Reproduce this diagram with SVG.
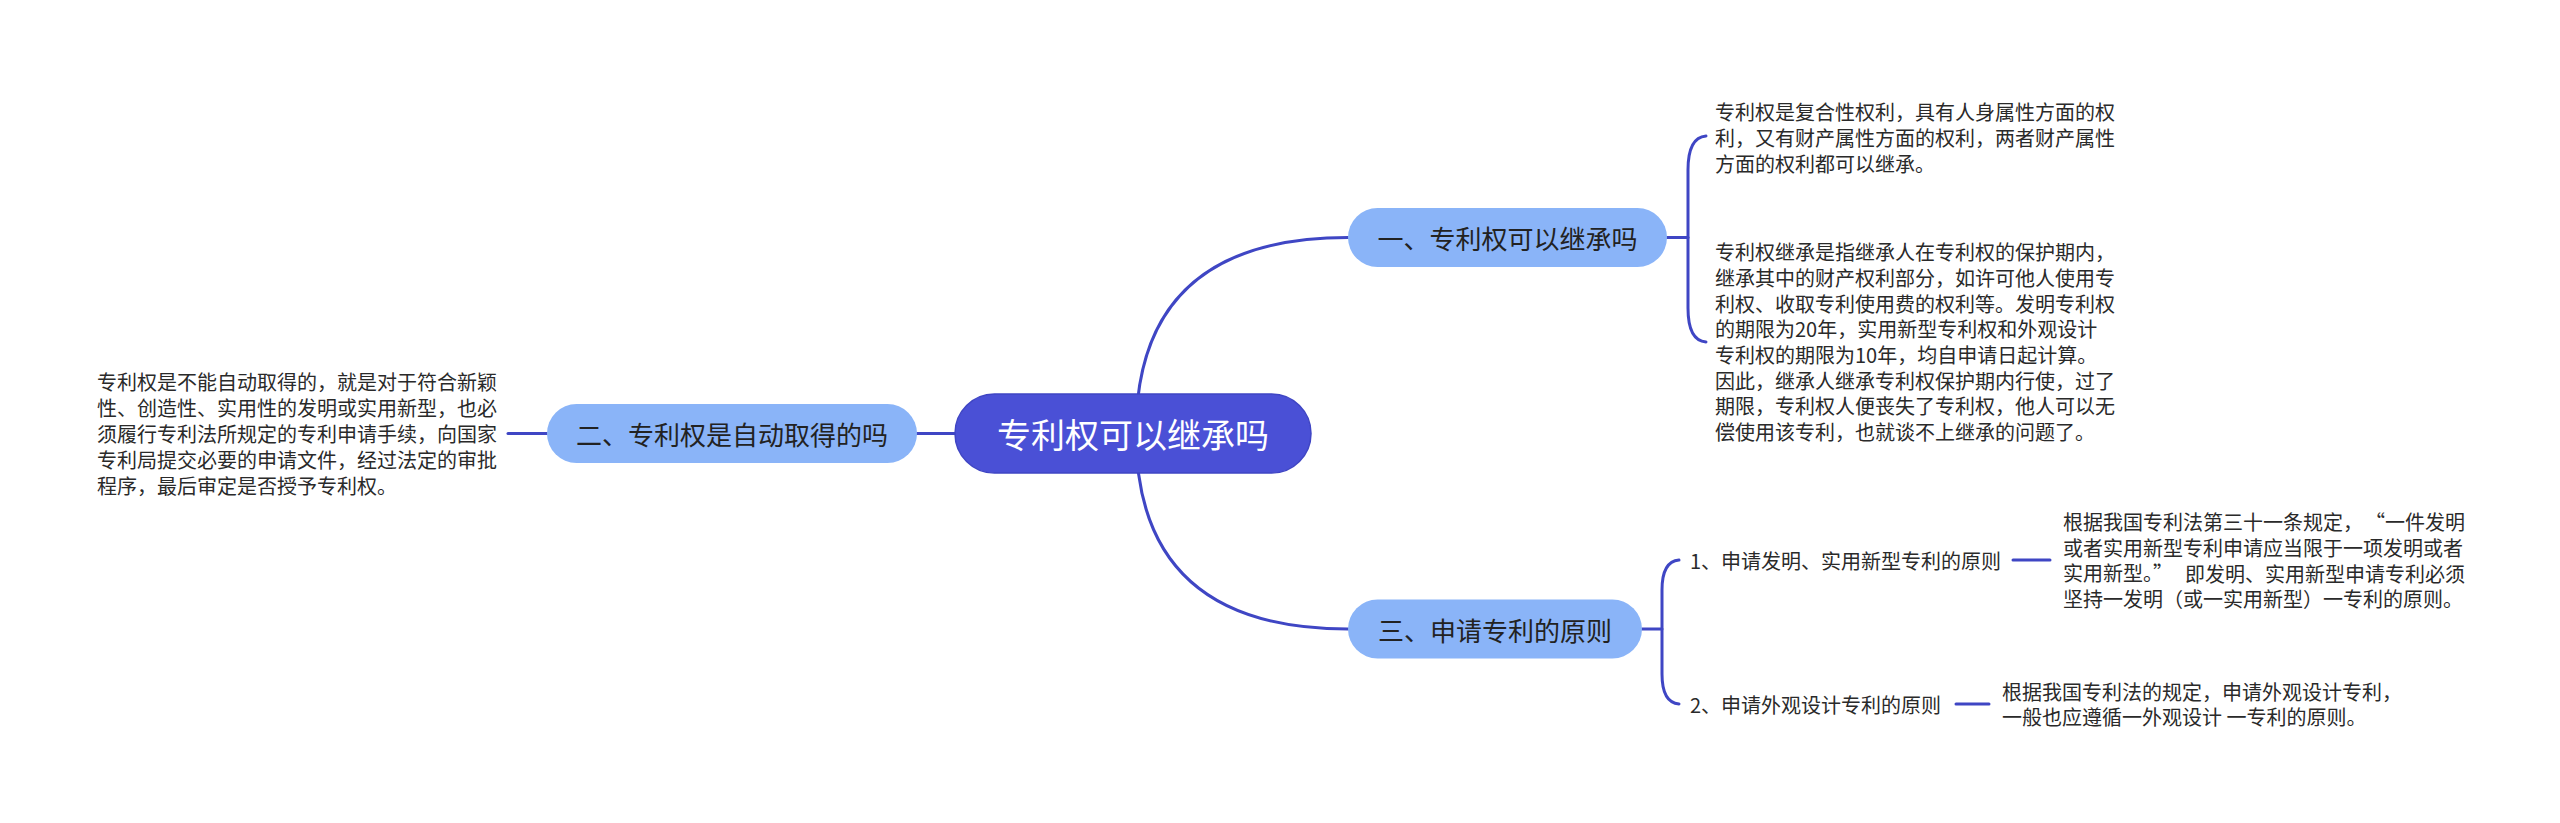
<svg xmlns="http://www.w3.org/2000/svg" width="2560" height="823" viewBox="0 0 2560 823">
<style>
text{font-family:"Noto Sans CJK SC","Liberation Sans",sans-serif;dominant-baseline:central}
.root{fill:#4a50d6;stroke:#3f45c4;stroke-width:1.5}
.br{fill:#8ab4f8}
.rt{fill:#ffffff;font-size:34px;text-anchor:middle}
.bt{fill:#222222;font-size:26px;text-anchor:middle}
.lt{fill:#2a2a2a;font-size:20px}
.con{fill:none;stroke:#3f46c4;stroke-width:3;stroke-linecap:round}
</style>
<rect width="2560" height="823" fill="#ffffff"/>
<g id="connectors">
<path class="con" d="M1136,433 Q1136,237.5 1348,237.5"/>
<path class="con" d="M1136,433 Q1136,629 1348,629"/>
<path class="con" d="M917,433.5 L955,433.5"/>
<path class="con" d="M508,433.5 L547,433.5"/>
<path class="con" d="M1667,237.5 L1688,237.5"/>
<path class="con" d="M1706,136 C1693,137 1688,150 1688,170 L1688,308 C1688,328 1693,341 1706,342"/>
<path class="con" d="M1642,629 L1662,629"/>
<path class="con" d="M1679,560 C1667,561 1662,572 1662,590 L1662,674 C1662,692 1667,703 1679,704"/>
<path class="con" d="M2013,560 L2050,560"/>
<path class="con" d="M1956,704 L1989,704"/>
</g>
<g id="root">
<rect class="root" x="955" y="394" width="356" height="79" rx="39.5"/>
<text class="rt" x="1133" y="433.5">专利权可以继承吗</text>
</g>
<g id="branch1">
<rect class="br" x="1348" y="208" width="319" height="59" rx="29.5"/>
<text class="bt" x="1507.5" y="237.5">一、专利权可以继承吗</text>
</g>
<g id="branch2">
<rect class="br" x="547" y="404" width="370" height="59" rx="29.5"/>
<text class="bt" x="732" y="433.5">二、专利权是自动取得的吗</text>
</g>
<g id="branch3">
<rect class="br" x="1348" y="599.5" width="294" height="59" rx="29.5"/>
<text class="bt" x="1495" y="629">三、申请专利的原则</text>
</g>
<g id="leaf2">
<text class="lt" x="97" y="381.5">专利权是不能自动取得的，就是对于符合新颖</text>
<text class="lt" x="97" y="407.5">性、创造性、实用性的发明或实用新型，也必</text>
<text class="lt" x="97" y="433.5">须履行专利法所规定的专利申请手续，向国家</text>
<text class="lt" x="97" y="459.5">专利局提交必要的申请文件，经过法定的审批</text>
<text class="lt" x="97" y="485.5">程序，最后审定是否授予专利权。</text>
</g>
<g id="leaf1a">
<text class="lt" x="1715" y="111.8">专利权是复合性权利，具有人身属性方面的权</text>
<text class="lt" x="1715" y="137.8">利，又有财产属性方面的权利，两者财产属性</text>
<text class="lt" x="1715" y="163.8">方面的权利都可以继承。</text>
</g>
<g id="leaf1b">
<text class="lt" x="1715" y="251.7">专利权继承是指继承人在专利权的保护期内，</text>
<text class="lt" x="1715" y="277.4">继承其中的财产权利部分，如许可他人使用专</text>
<text class="lt" x="1715" y="303.1">利权、收取专利使用费的权利等。发明专利权</text>
<text class="lt" x="1715" y="328.8">的期限为20年，实用新型专利权和外观设计</text>
<text class="lt" x="1715" y="354.5">专利权的期限为10年，均自申请日起计算。</text>
<text class="lt" x="1715" y="380.2">因此，继承人继承专利权保护期内行使，过了</text>
<text class="lt" x="1715" y="405.9">期限，专利权人便丧失了专利权，他人可以无</text>
<text class="lt" x="1715" y="431.6">偿使用该专利，也就谈不上继承的问题了。</text>
</g>
<g id="sub1">
<text class="lt" x="1690" y="560">1、申请发明、实用新型专利的原则</text>
</g>
<g id="sub1leaf">
<text class="lt" x="2063" y="521.4">根据我国专利法第三十一条规定，<tspan dx="12">“</tspan>一件发明</text>
<text class="lt" x="2063" y="547.1">或者实用新型专利申请应当限于一项发明或者</text>
<text class="lt" x="2063" y="572.9">实用新型。”<tspan dx="12">即发明、实用新型申请专利必须</tspan></text>
<text class="lt" x="2063" y="598.6">坚持一发明（或一实用新型）一专利的原则。</text>
</g>
<g id="sub2">
<text class="lt" x="1690" y="704">2、申请外观设计专利的原则</text>
</g>
<g id="sub2leaf">
<text class="lt" x="2002" y="691.2">根据我国专利法的规定，申请外观设计专利，</text>
<text class="lt" x="2002" y="716.8">一般也应遵循一外观设计 一专利的原则。</text>
</g>
</svg>
